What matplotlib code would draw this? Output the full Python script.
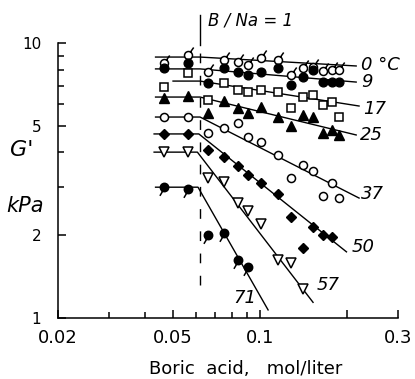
import matplotlib
matplotlib.use("Agg")
import matplotlib.pyplot as plt
from matplotlib.path import Path
from matplotlib.ticker import FixedLocator, FixedFormatter, NullFormatter

# boric acid concentration (mol/liter), shared by all temperature series
boric = [0.0465, 0.0562, 0.0658, 0.0753, 0.0839, 0.0905, 0.1010,
         0.1156, 0.1282, 0.1408, 0.1524, 0.1650, 0.1773, 0.1876]

# storage modulus G' (kPa) at each temperature
g_0 = [8.46, 9.04, 7.85, 8.67, 8.53, 8.32, 8.82, 8.67, 7.65, 8.11, 8.18, 7.91, 7.98, 7.98]
g_9 = [8.11, 8.46, 7.15, 8.11, 7.85, 7.65, 7.85, 8.11, 7.04, 7.53, 7.98, 7.21, 7.21, 7.21]
g_17 = [6.92, 7.78, 6.20, 7.15, 6.75, 6.64, 6.75, 6.64, 5.80, 6.36, 6.47, 5.95, 6.10, 5.38]
g_25 = [6.31, 6.42, 5.57, 6.15, 5.80, 5.57, 5.85, 5.40, 4.99, 5.47, 5.38, 4.71, 4.83, 4.63]
g_37 = [5.38, 5.38, 4.71, 4.91, 5.12, 4.55, 4.37, 3.91, 3.23, 3.60, 3.42, 2.78, 3.10, 2.73]
g_50 = [4.67, 4.67, 4.08, 3.85, 3.57, 3.31, 3.10, 2.82, 2.33, 1.80, 2.14, 2.00, 1.97]
g_57 = [4.01, 4.01, 3.23, 3.12, 2.62, 2.45, 2.20, 1.62, 1.58, 1.27]
g_71 = [2.99, 2.94, 2.00, 2.04, 1.62, 1.53]

# fitted lines: plateau up to B/Na = 1, then power-law decrease
fit_0 = ([0.0435, 0.062, 0.215], [8.89, 8.89, 8.25])
fit_9 = ([0.0435, 0.062, 0.215], [8.05, 8.05, 7.21])
fit_17 = ([0.050, 0.062, 0.220], [7.27, 7.27, 5.90])
fit_25 = ([0.0435, 0.062, 0.215], [6.36, 6.36, 4.63])
fit_37 = ([0.0435, 0.062, 0.220], [5.38, 5.38, 2.73])
fit_50 = ([0.043, 0.0614, 0.199], [4.67, 4.67, 1.74])
fit_57 = ([0.043, 0.0607, 0.1525], [4.01, 4.01, 1.14])
fit_71 = ([0.0435, 0.061, 0.1066], [2.99, 2.99, 1.07])

bna_x = 0.062   # B/Na = 1

temp_labels = ["0 °C", "9", "17", "25", "37", "50", "57", "71"]
label_x = [0.224, 0.224, 0.227, 0.222, 0.224, 0.207, 0.157, 0.081]
label_y = [8.30, 7.21, 5.75, 4.63, 2.82, 1.81, 1.32, 1.18]

# circle with a short stroke, for the 0 and 71 degree points
tail_up = Path.make_compound_path(
    Path.unit_circle(),
    Path([(0.5, 0.87), (1.3, 2.0)], [Path.MOVETO, Path.LINETO]))
tail_down = Path.make_compound_path(
    Path.unit_circle(),
    Path([(-0.45, -0.9), (-1.1, -2.0)], [Path.MOVETO, Path.LINETO]))

fig = plt.figure(figsize=(4.15, 3.79), dpi=100)
ax = fig.add_axes([58 / 415, 61 / 379, 340 / 415, 275 / 379])
ax.set_xscale("log")
ax.set_yscale("log")
ax.set_xlim(0.02, 0.3)
ax.set_ylim(1, 10)

lw = 1.0
for fx, fy in [fit_0, fit_9, fit_17, fit_25, fit_37, fit_50, fit_57, fit_71]:
    ax.plot(fx, fy, color="black", lw=lw, zorder=2)

mew = 1.1
ax.plot(boric, g_0, ls="none", marker=tail_up, ms=11.5, mfc="white", mec="black", mew=mew, zorder=3)
ax.plot(boric, g_9, ls="none", marker="o", ms=6.3, color="black", zorder=3)
ax.plot(boric, g_17, ls="none", marker="s", ms=5.6, mfc="white", mec="black", mew=mew, zorder=3)
ax.plot(boric, g_25, ls="none", marker="^", ms=7.5, color="black", zorder=3)
ax.plot(boric, g_37, ls="none", marker="o", ms=5.8, mfc="white", mec="black", mew=mew, zorder=3)
ax.plot(boric[:len(g_50)], g_50, ls="none", marker="D", ms=5.2, color="black", zorder=3)
ax.plot(boric[:len(g_57)], g_57, ls="none", marker="v", ms=7.5, mfc="white", mec="black", mew=mew, zorder=3)
ax.plot(boric[:len(g_71)], g_71, ls="none", marker=tail_down, ms=12, mfc="black", mec="black", mew=mew, zorder=3)

# B/Na = 1 marker line
ax.plot([bna_x, bna_x], [1.32, 9.8], color="black", lw=lw, ls=(0, (7, 9)), zorder=1)
ax.plot([bna_x, bna_x], [9.8, 12.6], color="black", lw=lw, clip_on=False)
ax.text(0.066, 12.1, "B / Na = 1", fontsize=12, style="italic", va="center", ha="left")

for t, lx, ly in zip(temp_labels, label_x, label_y):
    ax.text(lx, ly, t, fontsize=13, style="italic", va="center", ha="left")

for s in ["top", "right"]:
    ax.spines[s].set_visible(False)
for s in ["left", "bottom"]:
    ax.spines[s].set_linewidth(1.1)

ax.xaxis.set_major_locator(FixedLocator([0.02, 0.05, 0.1, 0.2, 0.3]))
ax.xaxis.set_major_formatter(FixedFormatter(["0.02", "0.05", "0.1", "", "0.3"]))
ax.xaxis.set_minor_locator(FixedLocator([0.03, 0.04, 0.06, 0.07, 0.08, 0.09]))
ax.xaxis.set_minor_formatter(NullFormatter())
ax.yaxis.set_major_locator(FixedLocator([1, 2, 5, 10]))
ax.yaxis.set_major_formatter(FixedFormatter(["1", "2", "5", "10"]))
ax.yaxis.set_minor_locator(FixedLocator([3, 4, 6, 7, 8, 9]))
ax.yaxis.set_minor_formatter(NullFormatter())

ax.tick_params(which="both", direction="in", width=1.1)
ax.tick_params(which="major", length=6)
ax.tick_params(which="minor", length=4.5)
ax.tick_params(axis="x", labelsize=13, pad=8)
ax.tick_params(axis="y", labelsize=11, pad=12)

fig.text(22 / 415, 1 - 150 / 379, "G'", fontsize=16, style="italic", ha="center", va="center")
fig.text(25 / 415, 1 - 206 / 379, "kPa", fontsize=15, style="italic", ha="center", va="center")
fig.text(246 / 415, 1 - 369 / 379, "Boric  acid,   mol/liter", fontsize=13, ha="center", va="center")

fig.savefig("out.png", dpi=100)
